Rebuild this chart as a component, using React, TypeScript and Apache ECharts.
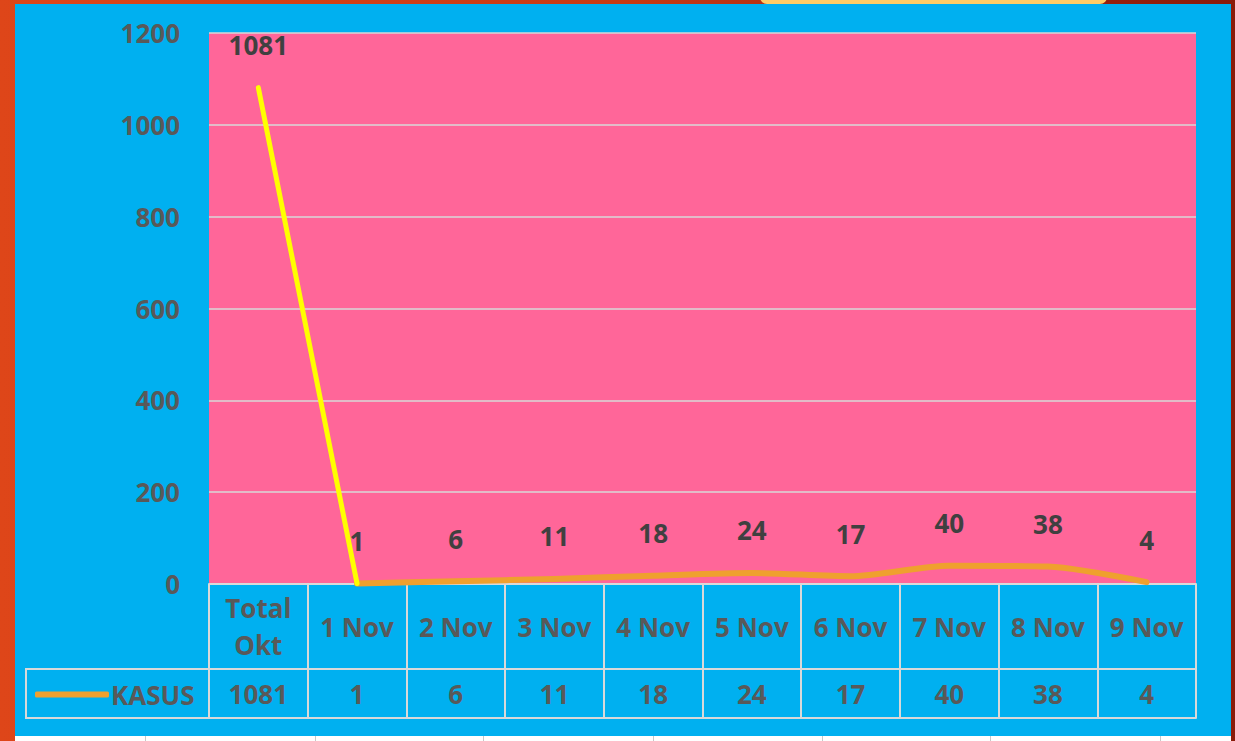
import React, { useEffect, useRef } from "react";
import * as echarts from "echarts";

const categories = ["Total\nOkt", "1 Nov", "2 Nov", "3 Nov", "4 Nov", "5 Nov", "6 Nov", "7 Nov", "8 Nov", "9 Nov"];
const kasus = [1081, 1, 6, 11, 18, 24, 17, 40, 38, 4];
const seriesName = "KASUS";
const yMin = 0;
const yMax = 1200;
const yInterval = 200;

const W = 1235;
const H = 741;
const GRID = { left: 209, top: 33, right: 1235 - 1196, bottom: 741 - 584 };
const HEADER_H = 85;
const ROW_H = 49;
const TABLE_LEFT = 26;

const FONT = "'Open Sans', 'Noto Sans', sans-serif";
const GRAY = "#595959";
const LINE_GRAY = "#D9D9D9";
const ORANGE = "#EFA02E";
const YELLOW = "#FFFF00";

export default function App() {
  const ref = useRef<HTMLDivElement>(null);

  useEffect(() => {
    if (!ref.current) return;
    const chart = echarts.init(ref.current, undefined, { renderer: "svg" });
    const axisBottomY = H - GRID.bottom;
    const rowTop = axisBottomY + HEADER_H;
    const rowBottom = rowTop + ROW_H;

    const labelStyle = {
      fontFamily: FONT,
      fontWeight: "bold" as const,
      fontSize: 26,
      color: GRAY,
    };

    const dataLabel = {
      show: true,
      position: "top",
      distance: 29,
      fontFamily: FONT,
      fontWeight: "bold",
      fontSize: 26,
      color: "#404040",
    };

    chart.setOption({
      animation: false,
      backgroundColor: "transparent",
      textStyle: { fontFamily: FONT },
      grid: {
        left: GRID.left,
        top: GRID.top,
        right: GRID.right,
        bottom: GRID.bottom,
        show: true,
        backgroundColor: "#FF6699",
        borderWidth: 0,
      },
      legend: {
        data: [{ name: seriesName, icon: "roundRect", itemStyle: { color: ORANGE } }],
        left: 30,
        top: rowTop + ROW_H / 2 - 17,
        itemWidth: 74,
        itemHeight: 6,
        textStyle: { ...labelStyle, fontSize: 26, padding: [0, 0, 0, -3] },
      },
      xAxis: [
        {
          type: "category",
          data: categories,
          position: "bottom",
          boundaryGap: true,
          axisLine: { show: true, lineStyle: { color: LINE_GRAY, width: 2 } },
          axisTick: { show: true, length: HEADER_H, interval: 0, lineStyle: { color: LINE_GRAY, width: 2 } },
          axisLabel: {
            ...labelStyle,
            interval: 0,
            margin: HEADER_H / 2,
            verticalAlign: "middle",
            lineHeight: 37,
          },
          splitLine: { show: false },
        },
        {
          type: "category",
          data: kasus.map(String),
          position: "bottom",
          offset: HEADER_H,
          boundaryGap: true,
          axisLine: { show: true, lineStyle: { color: LINE_GRAY, width: 2 } },
          axisTick: { show: true, length: ROW_H, interval: 0, lineStyle: { color: LINE_GRAY, width: 2 } },
          axisLabel: {
            ...labelStyle,
            interval: 0,
            margin: ROW_H / 2,
            verticalAlign: "middle",
          },
        },
        {
          type: "category",
          data: categories,
          position: "bottom",
          offset: HEADER_H + ROW_H,
          axisLine: { show: true, lineStyle: { color: LINE_GRAY, width: 2 } },
          axisTick: { show: false },
          axisLabel: { show: false },
        },
      ],
      yAxis: {
        type: "value",
        min: yMin,
        max: yMax,
        interval: yInterval,
        axisLine: { show: false },
        axisTick: { show: false },
        axisLabel: { ...labelStyle, margin: 29, formatter: (v: number) => String(v) },
        splitLine: { lineStyle: { color: LINE_GRAY, width: 1.5 } },
      },
      graphic: [
        {
          type: "polyline",
          silent: true,
          shape: {
            points: [
              [GRID.left, rowTop],
              [TABLE_LEFT, rowTop],
              [TABLE_LEFT, rowBottom],
              [GRID.left, rowBottom],
            ],
          },
          style: { stroke: LINE_GRAY, lineWidth: 2, fill: "none" },
        },
      ],
      series: [
        {
          name: seriesName,
          type: "line",
          xAxisIndex: 0,
          data: kasus.map((v, i) => (i >= 1 ? v : null)),
          smooth: 0.25,
          symbol: "circle",
          symbolSize: 1,
          showSymbol: true,
          connectNulls: false,
          lineStyle: { color: ORANGE, width: 6, cap: "round", join: "round" },
          itemStyle: { color: ORANGE },
          label: dataLabel,
          labelLayout: { hideOverlap: false },
          z: 3,
        },
        {
          name: "first",
          type: "line",
          xAxisIndex: 0,
          data: kasus.map((v, i) => (i <= 1 ? v : null)),
          symbol: "circle",
          symbolSize: 1,
          showSymbol: true,
          lineStyle: { color: YELLOW, width: 5, cap: "round" },
          itemStyle: { color: YELLOW },
          label: {
            ...dataLabel,
            formatter: (p: any) => (p.dataIndex === 0 ? String(p.value) : ""),
          },
          z: 4,
        },
      ],
    });
    return () => chart.dispose();
  }, []);

  const stripLines = [145, 315, 483, 653, 822, 990, 1160];

  return (
    <div
      style={{
        position: "fixed",
        left: 0,
        top: 0,
        width: W,
        height: H,
        overflow: "hidden",
        background: "linear-gradient(to right, #DE4619 0%, #C83A14 50%, #A02410 80%, #8A1A0A 100%)",
      }}
    >
      <div
        style={{
          position: "absolute",
          left: 760,
          top: -10,
          width: 347,
          height: 14,
          borderRadius: 8,
          background: "#FFCC66",
        }}
      />
      <div style={{ position: "absolute", left: 15, top: 4, width: 1216, height: 732, background: "#00B0F0" }} />
      <div style={{ position: "absolute", left: 15, top: 736, width: 1216, height: 5, background: "#FFFFFF" }}>
        {stripLines.map((x) => (
          <div key={x} style={{ position: "absolute", left: x - 15, top: 0, width: 1, height: 5, background: "#C8C8C8" }} />
        ))}
      </div>
      <div ref={ref} style={{ position: "absolute", left: 0, top: 0, width: W, height: H }} />
    </div>
  );
}
